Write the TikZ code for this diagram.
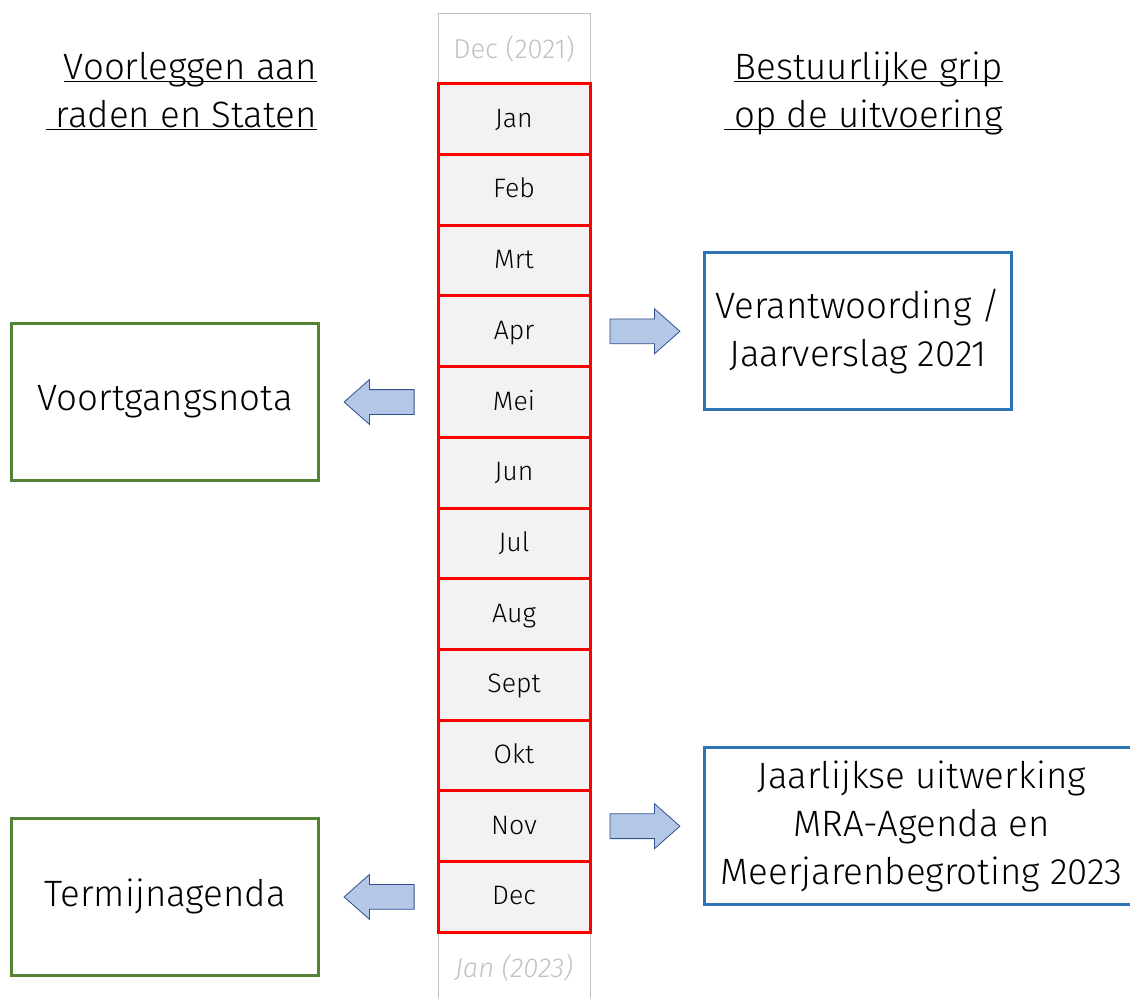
\documentclass[tikz,border=0pt]{standalone}
\usepackage{fontspec}
\setmainfont{Fira Sans Light}
\usetikzlibrary{positioning}
\usetikzlibrary{shapes.arrows}
\definecolor{monthred}{HTML}{FF0000}
\definecolor{monthfill}{HTML}{F2F2F2}
\definecolor{yeargray}{HTML}{BFBFBF}
\definecolor{yeartext}{HTML}{C2C2C2}
\definecolor{boxgreen}{HTML}{548235}
\definecolor{boxblue}{HTML}{2E75B6}
\definecolor{arrowfill}{HTML}{B4C7E7}
\definecolor{arrowline}{HTML}{2F528F}
\tikzset{
  month/.style={draw=monthred, line width=2.25pt, fill=monthfill,
    minimum width=114pt, minimum height=53pt, inner sep=0pt,
    text height=12pt, text depth=0pt,
    font=\fontsize{20}{24}\selectfont},
  yearbox/.style={draw=yeargray, line width=0.75pt, fill=white, text=yeartext,
    minimum width=114pt, minimum height=53.25pt, inner sep=0pt,
    font=\fontsize{20.5}{24}\selectfont},
  greenbox/.style={draw=boxgreen, line width=2.25pt, align=center,
    minimum width=230.25pt, minimum height=117.75pt, inner sep=0pt,
    font=\fontsize{27.5}{36}\selectfont},
  bluebox/.style={greenbox, draw=boxblue},
  blockarrow/.style={single arrow, draw=arrowline, fill=arrowfill, line width=0.6pt,
    minimum height=52.5pt, inner xsep=0pt, inner ysep=9pt,
    single arrow head extend=7.5pt, single arrow tip angle=83},
  heading/.style={align=right, inner sep=0pt, font=\fontsize{27.5}{36}\selectfont}
}
\begin{document}
\begin{tikzpicture}[x=0.75pt,y=-0.75pt]
\useasboundingbox (0,0) rectangle (1130,997);
%%%%%%%%% headings
\node [heading, anchor=east] (lefthead) at (317,105)
  {\underline{\smash{Voorleggen aan}}\\\underline{\smash{\ raden en Staten}}};
\node [heading, anchor=east] (righthead) at (1003,105)
  {\underline{\smash{Bestuurlijke grip}}\\\underline{\smash{\ op de uitvoering}}};
%%%%%%%%% months
\node [yearbox] (prevyear) at (514,48.5) {Dec (2021)};
\node [yearbox] (nextyear) at (514,967.5) {\itshape Jan (2023)};
\foreach \m [count=\i] in {Jan,Feb,Mrt,Apr,Mei,Jun,Jul,Aug,Sept,Okt,Nov,Dec}
  \node [month] (m\i) at (514,{48.5+70.7*\i}) {\m};
%%%%%%%%% arrows and boxes
\node [blockarrow, right=13.5pt of m4] (arrapr) {};
\node [bluebox, right=17pt of arrapr] (verant) {Verantwoording /\\Jaarverslag 2021};
\node [blockarrow, right=13.5pt of m11] (arrnov) {};
\node [bluebox, minimum width=325.5pt, right=17pt of arrnov] (jaarlijks)
  {Jaarlijkse uitwerking\\MRA-Agenda en\\Meerjarenbegroting 2023};
\node [blockarrow, shape border rotate=180, left=16.5pt of m5] (arrmei) {};
\node [greenbox, left=17.5pt of arrmei] (voortgang) {Voortgangsnota};
\node [blockarrow, shape border rotate=180, left=16.5pt of m12] (arrdec) {};
\node [greenbox, left=17.5pt of arrdec] (termijn) {Termijnagenda};
\end{tikzpicture}
\end{document}
